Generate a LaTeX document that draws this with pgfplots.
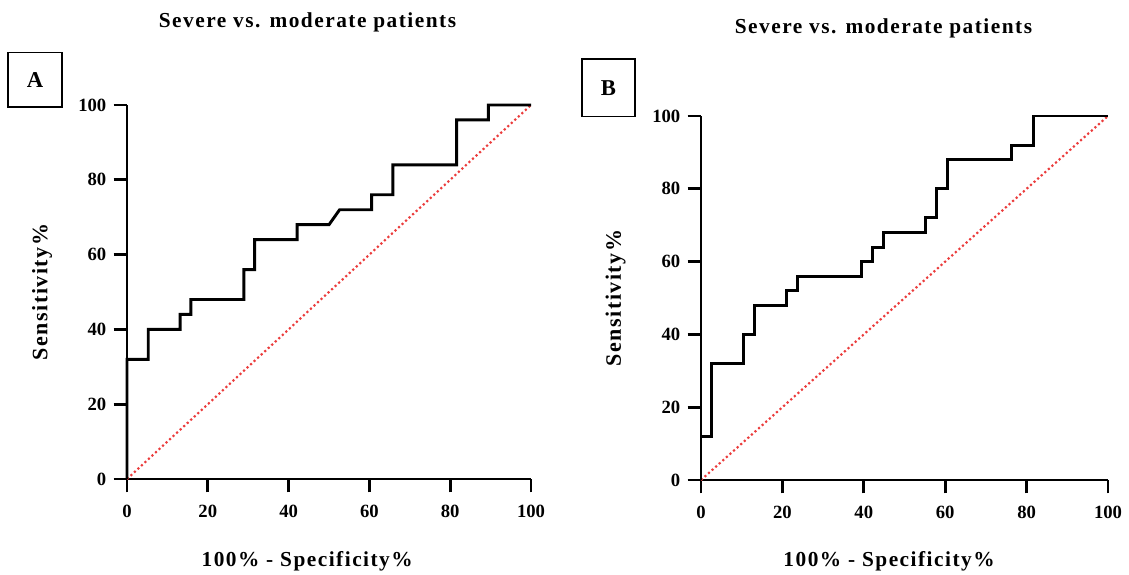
\documentclass[border=0pt]{standalone}
\usepackage{pgfplots}
\pgfplotsset{compat=1.18}
\usepackage{fontspec}
\setmainfont{Liberation Serif}
\newfontfamily\wideserif[LetterSpace=7]{Liberation Serif}
\definecolor{diag}{RGB}{235,60,60}

\pgfplotsset{
  roc/.style={
    scale only axis,
    anchor=south west,
    xmin=0, xmax=100, ymin=0, ymax=100,
    xtick={0,20,...,100}, ytick={0,20,...,100},
    axis lines=left,
    axis line style={-, line width=2pt},
    major tick style={line width=2pt, black},
    tick align=outside,
    major tick length=10pt,
    clip=false,
    /pgf/number format/assume math mode=true,
    tick label style={font=\fontsize{14}{16}\selectfont\bfseries},
    xticklabel style={yshift=-6pt},
    yticklabel style={xshift=-2pt},
    xlabel style={anchor=center,
      font=\wideserif\fontsize{16}{18}\selectfont\bfseries},
    ylabel style={at={(axis description cs:-0.21,0.5)}, anchor=center,
      font=\wideserif\fontsize{16.5}{18}\selectfont\bfseries},
    xlabel={100\% - Specificity\%},
    ylabel={Sensitivity\%},
  },
  curve/.style={black, line width=2.2pt, line join=miter},
  chance/.style={diag, line width=1.6pt, dotted},
}

\begin{document}
\begin{tikzpicture}
\useasboundingbox (0,0) rectangle (846.75pt,431.25pt);

% panel A
\begin{axis}[roc, at={(95.25pt,72pt)}, width=303pt, height=280.5pt,
  xlabel style={at={(axis description cs:0.446,-0.22)}}]
\addplot[chance] coordinates {(0,0)(100,100)};
\addplot[curve] coordinates {
(0,0)(0,32)(5.26,32)(5.26,40)(13.16,40)(13.16,44)(15.79,44)(15.79,48)
(28.95,48)(28.95,56)(31.58,56)(31.58,64)(42.11,64)(42.11,68)(50,68)
(52.63,72)(60.53,72)(60.53,76)(65.79,76)(65.79,84)(81.58,84)(81.58,96)
(89.47,96)(89.47,100)(100,100)};
\end{axis}

% panel B
\begin{axis}[roc, at={(525.75pt,71.25pt)}, width=305.25pt, height=273pt,
  xlabel style={at={(axis description cs:0.462,-0.222)}}]
\addplot[chance] coordinates {(0,0)(100,100)};
\addplot[curve] coordinates {
(0,0)(0,12)(2.63,12)(2.63,32)(10.53,32)(10.53,40)(13.16,40)(13.16,48)
(21.05,48)(21.05,52)(23.68,52)(23.68,56)(39.47,56)(39.47,60)(42.11,60)
(42.11,64)(44.74,64)(44.74,68)(55.26,68)(55.26,72)(57.89,72)(57.89,80)
(60.53,80)(60.53,88)(76.32,88)(76.32,92)(81.58,92)(81.58,100)(100,100)};
\end{axis}

% titles
\node[font=\wideserif\fontsize{16}{18}\selectfont\bfseries] at (230.6pt,414.5pt) {Severe vs. moderate patients};
\node[font=\wideserif\fontsize{16}{18}\selectfont\bfseries] at (662.6pt,410pt) {Severe vs. moderate patients};

% panel letters
\draw[line width=0.8pt] (6pt,351pt) rectangle (46.5pt,392pt);
\node[font=\fontsize{17}{19}\selectfont\bfseries] at (26.25pt,371.5pt) {A};
\draw[line width=0.8pt] (436.5pt,344pt) rectangle (476.25pt,387pt);
\node[font=\fontsize{17}{19}\selectfont\bfseries] at (456.4pt,365.5pt) {B};
\end{tikzpicture}
\end{document}
